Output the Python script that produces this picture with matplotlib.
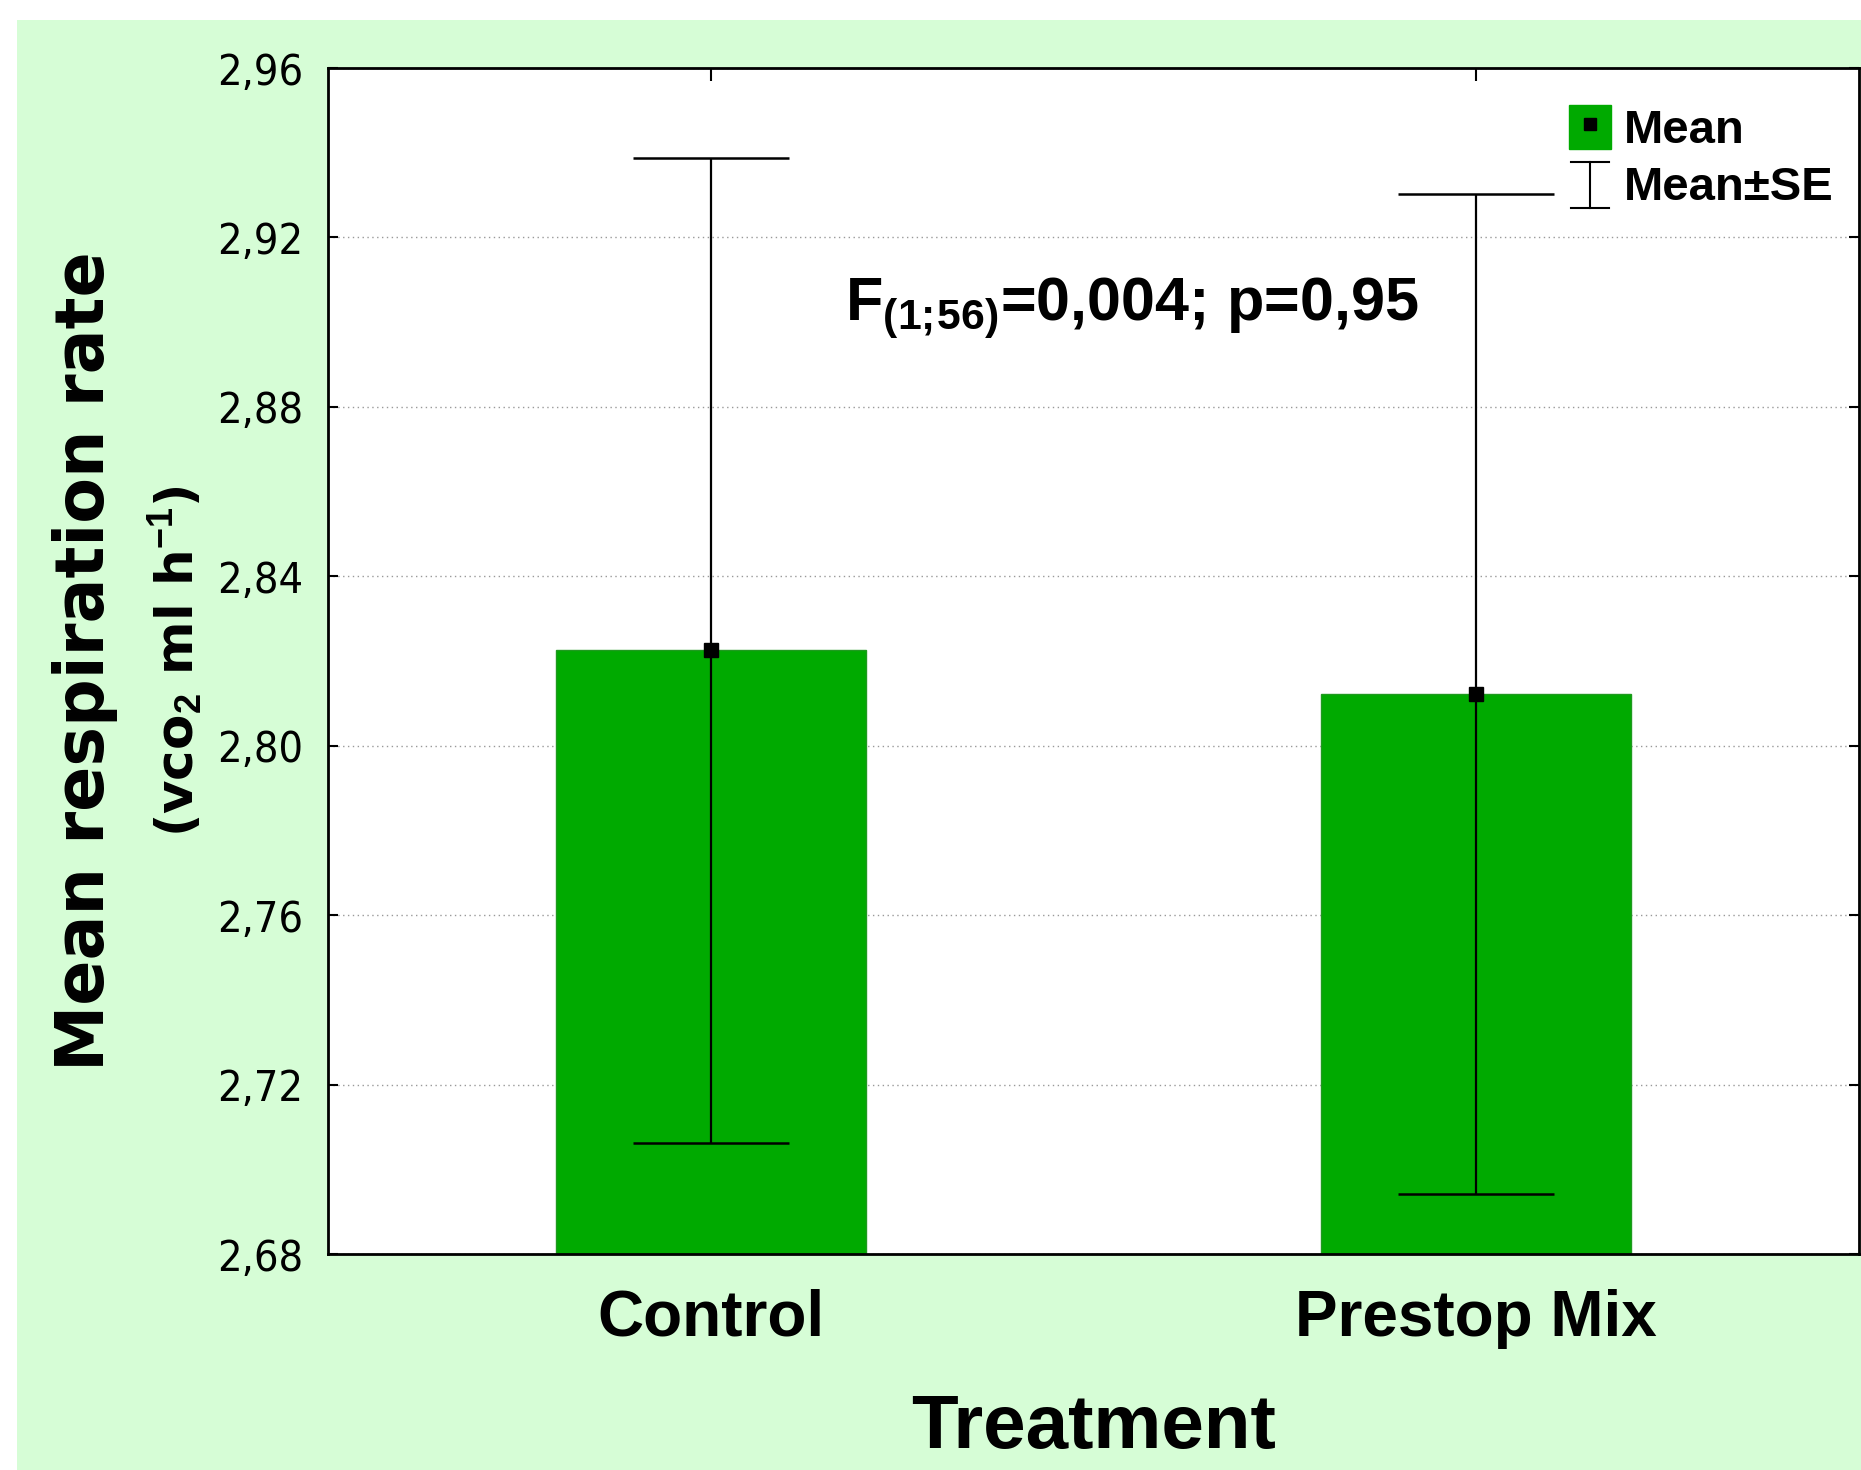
import numpy as np
import matplotlib
matplotlib.use("Agg")
import matplotlib.pyplot as plt
from matplotlib.patches import Patch, Rectangle
from matplotlib.lines import Line2D
from matplotlib.legend_handler import HandlerBase

# data
treatments = ["Control", "Prestop Mix"]
means = [2.8225, 2.8122]
se = [0.1163, 0.1181]
yticks = [2.68, 2.72, 2.76, 2.80, 2.84, 2.88, 2.92, 2.96]
ytick_labels = ["2,68", "2,72", "2,76", "2,80", "2,84", "2,88", "2,92", "2,96"]

bar_green = "#00aa00"
bg_green = "#d6fdd6"

plt.rcParams["mathtext.fontset"] = "custom"
plt.rcParams["mathtext.bf"] = "Liberation Sans:bold"
plt.rcParams["mathtext.rm"] = "Liberation Sans:bold"


class HandlerSE(HandlerBase):
    # draws the little "I" used for Mean±SE
    def create_artists(self, legend, orig_handle, xdescent, ydescent,
                       width, height, fontsize, trans):
        xc = -xdescent + width / 2
        y0 = -ydescent - height * 0.05
        y1 = -ydescent + height * 1.0
        half = width * 0.45
        lines = [
            Line2D([xc, xc], [y0, y1], color="k", lw=1.5),
            Line2D([xc - half, xc + half], [y0, y0], color="k", lw=1.5),
            Line2D([xc - half, xc + half], [y1, y1], color="k", lw=1.5),
        ]
        for ln in lines:
            ln.set_transform(trans)
        return lines


fig = plt.figure(figsize=(18.61, 14.70), dpi=100)
fig.patches.append(Rectangle((17 / 1861, 0), 1, (1470 - 20) / 1470,
                             transform=fig.transFigure, facecolor=bg_green,
                             edgecolor="none", zorder=-10))

ax = fig.add_axes([0.1762, 0.1469, 0.8227, 0.8068])
x = np.arange(len(treatments))

ax.bar(x, means, width=0.405, color=bar_green, edgecolor="#1f9a1f", lw=1, zorder=2)
ax.errorbar(x, means, yerr=se, fmt="none", ecolor="black", elinewidth=1.6,
            capsize=56, capthick=1.8, zorder=3)
ax.plot(x, means, "s", color="black", ms=10.5, zorder=4)

ax.set_xlim(-0.5, 1.5)
ax.set_ylim(2.68, 2.96)
ax.set_yticks(yticks, ytick_labels)
ax.set_xticks(x, treatments)

ax.tick_params(axis="both", direction="in", top=True, right=True)
ax.tick_params(axis="y", length=7, width=1.5, pad=18, labelsize=31)
ax.tick_params(axis="x", length=9, width=1.5, pad=25, labelsize=46)
for lab in ax.get_yticklabels():
    lab.set_family("DejaVu Sans")
    lab.set_fontstretch("condensed")
for lab in ax.get_xticklabels():
    lab.set_family("Liberation Sans")
    lab.set_fontweight("bold")

ax.grid(axis="y", linestyle=(0, (1, 2.5)), color="#999999", lw=1)
ax.set_axisbelow(True)
for sp in ax.spines.values():
    sp.set_linewidth(2)

ax.set_xlabel("Treatment", fontsize=55, fontweight="bold",
              family="Liberation Sans", labelpad=32)

fig.text(85 / 1861, 1 - 661 / 1470, "Mean respiration rate", rotation=90,
         ha="center", va="center", fontsize=48, fontweight="bold",
         family="DejaVu Sans")
fig.text(176 / 1861, 1 - 661 / 1470, "(vco$_\\mathbf{2}$ ml h$^\\mathbf{-1}$)",
         rotation=90, ha="center", va="center", fontsize=37,
         fontweight="bold", family="DejaVu Sans")

ax.text(0.338, 0.7875, "F$_\\mathbf{(1;\\!56)}$=0,004; p=0,95", transform=ax.transAxes,
        ha="left", va="baseline", fontsize=44, fontweight="bold",
        family="Liberation Sans")

mean_handle = (Patch(facecolor=bar_green, edgecolor=bar_green),
               Line2D([], [], ls="none", marker="s", color="k", ms=8))
se_handle = Line2D([], [], color="k")
ax.legend([mean_handle, se_handle], ["Mean", "Mean±SE"],
          handler_map={se_handle: HandlerSE()},
          loc="upper right", bbox_to_anchor=(0.9837, 0.969), frameon=False,
          prop={"family": "Liberation Sans", "weight": "bold", "size": 34},
          handlelength=0.9, handleheight=1.05, handletextpad=0.28,
          labelspacing=0.2, borderaxespad=0, borderpad=0)

fig.savefig("out.png", dpi=100)
